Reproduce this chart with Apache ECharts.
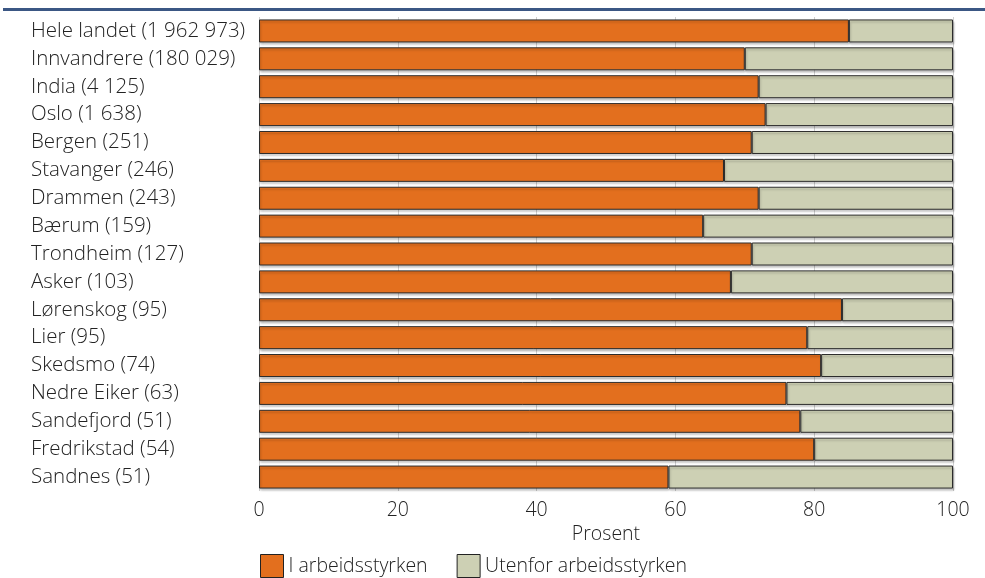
<!DOCTYPE html>
<html><head><meta charset="utf-8">
<script src="https://cdn.jsdelivr.net/npm/echarts@6/dist/echarts.min.js"></script>
<style>html,body{margin:0;padding:0;background:#fff}#c{width:985px;height:578px}</style>
</head><body><div id="c"></div>
<script>
const categories = ["Hele landet (1 962 973)","Innvandrere (180 029)","India (4 125)","Oslo (1 638)","Bergen (251)","Stavanger (246)","Drammen (243)","Bærum (159)","Trondheim (127)","Asker (103)","Lørenskog (95)","Lier (95)","Skedsmo (74)","Nedre Eiker (63)","Sandefjord (51)","Fredrikstad (54)","Sandnes (51)"];
const iArbeid = [85,70,72,73,71,67,72,64,71,68,84,79,81,76,78,80,59];
const utenfor = [15,30,28,27,29,33,28,36,29,32,16,21,19,24,22,20,41];
const xTicks = [0,20,40,60,80,100];
const seriesNames = ["I arbeidsstyrken","Utenfor arbeidsstyrken"];
const FONT = "Open Sans";
const FS = 19.5;
const FW = 300;
const chart = echarts.init(document.getElementById('c'));
const barStyle = (color) => ({color: color, borderColor:'#2b2b2b', borderWidth:1,
  shadowColor:'rgba(0,0,0,0.22)', shadowBlur:2, shadowOffsetX:1, shadowOffsetY:2});
chart.setOption({
  animation:false,
  textStyle:{fontFamily:FONT},
  graphic:[{type:'rect', shape:{x:3,y:8,width:982,height:3}, style:{fill:'#3b5784'}}],
  grid:{left:259,right:32,top:17,bottom:87,containLabel:false},
  legend:{left:260,top:554,padding:0,itemWidth:23,itemHeight:23,itemGap:29,icon:'rect',
    textStyle:{fontSize:19.5,color:'#222',fontFamily:FONT,fontWeight:FW},
    itemStyle:{borderColor:'#222',borderWidth:1},
    data:seriesNames},
  xAxis:{type:'value',min:0,max:100,interval:20,
    name:'Prosent',nameLocation:'middle',nameGap:22,
    nameTextStyle:{fontSize:FS,color:'#222',fontFamily:FONT,fontWeight:FW},
    axisLine:{show:false},axisTick:{show:false},
    axisLabel:{fontSize:FS,color:'#222',margin:9,fontFamily:FONT,fontWeight:FW,
      formatter:(v)=> xTicks.includes(v)? String(v):''},
    splitLine:{show:true,lineStyle:{color:'#d0d0d0',width:1}}},
  yAxis:{type:'category',data:categories,inverse:true,
    axisLine:{show:false},axisTick:{show:false},
    axisLabel:{fontSize:20.5,color:'#222',align:'left',margin:228,fontFamily:FONT,fontWeight:FW},
    splitLine:{show:false}},
  series:[
    {name:seriesNames[0],type:'bar',stack:'s',data:iArbeid,barWidth:23,itemStyle:barStyle('#e36f1e')},
    {name:seriesNames[1],type:'bar',stack:'s',data:utenfor,barWidth:23,itemStyle:barStyle('#cdd0b4')}
  ]
});
</script></body></html>
